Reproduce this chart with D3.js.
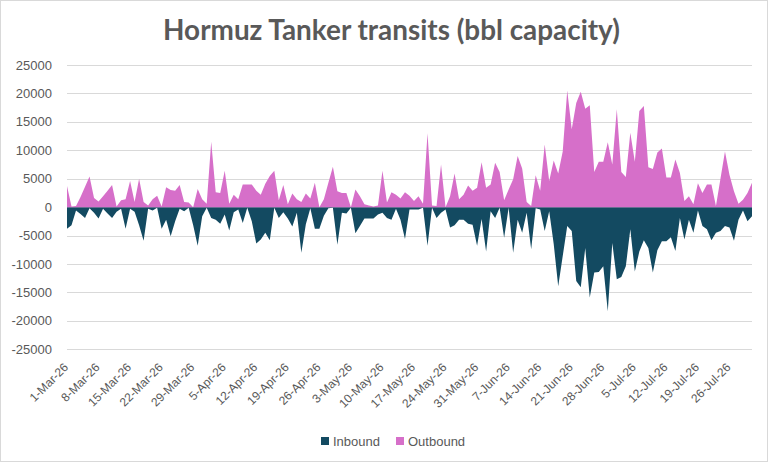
<!DOCTYPE html>
<html>
<head>
<meta charset="utf-8">
<script src="https://cdn.jsdelivr.net/npm/d3@7"></script>
<style>
body { margin: 0; background: #fff; }
svg { display: block; }
</style>
</head>
<body>
<div id="chart"></div>
<script>
var width = 768,
    height = 462;

// daily dates, 1-Mar-26 .. 31-Jul-26
var startDate = "2026-03-01",
    dayCount = 153;

var seriesNames = ["Inbound", "Outbound"];
var seriesColors = ["#134a61", "#d66fc9"];

var outbound = [
  3700, 100, 200, 1800, 3600, 5400, 1600, 1000, 1900, 2900,
  3900, 100, 1200, 1400, 4600, 900, 5000, 900, 300, 1400,
  2000, 100, 3500, 3000, 2900, 3900, 900, 800, 0, 3200,
  1400, 600, 11500, 2600, 2500, 6400, 600, 2200, 1400, 4000,
  4000, 4000, 2900, 2200, 4100, 5500, 6400, 1200, 3900, 500,
  2400, 1400, 900, 2400, 1500, 4300, 0, 1400, 4300, 7100,
  2800, 2500, 2500, 0, 3100, 1900, 500, 300, 100, 300,
  6400, 800, 2600, 2200, 1500, 2600, 2000, 1100, 1900, 600,
  13000, 300, 200, 7500, 0, 1900, 5900, 1400, 2200, 3800,
  2900, 3400, 7900, 3400, 4000, 7800, 6200, 1200, 3100, 4900,
  9000, 6800, 900, 200, 5600, 2900, 11000, 4600, 8200, 5900,
  9800, 20500, 13700, 18300, 20300, 17300, 17900, 6200, 8000, 8000,
  11400, 7500, 17200, 6200, 5300, 13100, 8000, 16900, 17800, 7000,
  6700, 9600, 10300, 5200, 5200, 8400, 6000, 1100, 1900, 500,
  4200, 2500, 4000, 4000, 200, 5000, 9800, 5700, 2800, 600,
  1300, 2500, 4300
];

var inbound = [
  -3800, -3200, -600, -1200, -1900, -200, -1000, -2000, -300, -1100,
  -1900, -800, -300, -3800, -300, -800, -3200, -5900, -300, -600,
  -100, -3800, -2200, -5100, -2500, -300, -700, -100, -3200, -6800,
  -1600, -100, -1900, -2200, -2900, -1300, -4100, -900, -400, -2800,
  -100, -2500, -6400, -5700, -4500, -5800, -100, -1900, -900, -2000,
  -3400, -1000, -8000, -3000, -200, -3800, -3800, -1500, -200, -100,
  -6600, -1000, -1100, -100, -4600, -3300, -2000, -2000, -2000, -1300,
  -1000, -1900, -2200, -300, -2200, -5600, -400, -400, -400, -100,
  -6800, -100, -1900, -1000, -400, -3600, -3200, -2200, -2200, -2900,
  -3100, -6800, -2100, -7800, -700, -1900, -100, -5400, -100, -8000,
  -2200, -4500, -1000, -7400, -200, -400, -4200, -700, -6500, -13900,
  -8600, -3300, -4200, -13000, -14100, -7200, -15900, -11500, -11400, -10400,
  -18300, -6300, -12700, -12300, -10400, -3900, -11300, -7800, -5800, -7200,
  -11500, -7600, -6000, -6000, -5300, -7700, -1900, -5700, -2200, -4500,
  -600, -3300, -3900, -5800, -4500, -4200, -3300, -3600, -5900, -2200,
  -600, -2500, -1600
];

var yTicks = [25000, 20000, 15000, 10000, 5000, 0, -5000, -10000, -15000, -20000, -25000];

var t0 = d3.utcParse("%Y-%m-%d")(startDate);
var dates = d3.utcDay.range(t0, d3.utcDay.offset(t0, dayCount));
// a label every 7th day, like the category axis
var tickDates = dates.filter(function (d, i) { return i % 7 === 0; });

var fmt = d3.utcFormat("%-d-%b-%y");
var grey = "#595959";

var svg = d3.select("#chart")
  .append("svg")
  .attr("width", width)
  .attr("height", height);

svg.append("rect")
  .attr("x", 0.5).attr("y", 0.5)
  .attr("width", width - 1).attr("height", height - 1)
  .attr("fill", "#fff")
  .attr("stroke", "#d9d9d9");

var x = d3.scaleUtc()
  .domain([dates[0], dates[dates.length - 1]])
  .range([67, 752]);

var y = d3.scaleLinear()
  .domain([-25000, 25000])
  .range([349.3, 65]);

// gridlines
svg.append("g")
  .selectAll("line")
  .data(yTicks)
  .enter()
  .append("line")
  .attr("x1", 67).attr("x2", 752)
  .attr("y1", function (d) { return Math.round(y(d)) + 0.5; })
  .attr("y2", function (d) { return Math.round(y(d)) + 0.5; })
  .attr("stroke", "#d9d9d9")
  .attr("stroke-width", 1);

// y labels
svg.append("g")
  .selectAll("text")
  .data(yTicks)
  .enter()
  .append("text")
  .attr("x", 52)
  .attr("y", function (d) { return y(d); })
  .attr("dy", "0.35em")
  .attr("text-anchor", "end")
  .style("font-family", "'Liberation Sans', Arial, sans-serif")
  .style("font-size", "13px")
  .style("fill", grey)
  .text(function (d) { return d; });

// areas (inbound below zero, outbound above)
var series = [inbound, outbound];
series.forEach(function (vals, k) {
  var area = d3.area()
    .x(function (d, i) { return x(dates[i]); })
    .y0(y(0))
    .y1(function (d) { return y(d); });
  svg.append("path")
    .datum(vals)
    .attr("fill", seriesColors[k])
    .attr("d", area);
});

// x labels
svg.append("g")
  .selectAll("text")
  .data(tickDates)
  .enter()
  .append("text")
  .attr("transform", function (d) {
    return "translate(" + (x(d) + 2) + ",368) rotate(-45)";
  })
  .attr("text-anchor", "end")
  .style("font-family", "'Liberation Sans', Arial, sans-serif")
  .style("font-size", "12px")
  .style("fill", grey)
  .text(function (d) { return fmt(d); });

// title
var title = svg.append("text")
  .attr("x", 391.5)
  .attr("y", 40)
  .attr("text-anchor", "middle")
  .style("font-family", "Lato, 'Open Sans', sans-serif")
  .style("font-weight", "bold")
  .style("font-size", "26px")
  .style("fill", grey)
  .text("Hormuz Tanker transits (bbl capacity)");
var tw = title.node().getComputedTextLength();
title.style("font-size", (26 * 457 / tw) + "px");

// legend
var legendX = [321, 396];
var legend = svg.append("g");
seriesNames.forEach(function (name, k) {
  legend.append("rect")
    .attr("x", legendX[k]).attr("y", 437)
    .attr("width", 8).attr("height", 8)
    .attr("fill", seriesColors[k]);
  legend.append("text")
    .attr("x", legendX[k] + 12)
    .attr("y", 446)
    .style("font-family", "'Liberation Sans', Arial, sans-serif")
    .style("font-size", "13px")
    .style("fill", grey)
    .text(name);
});
</script>
</body>
</html>
